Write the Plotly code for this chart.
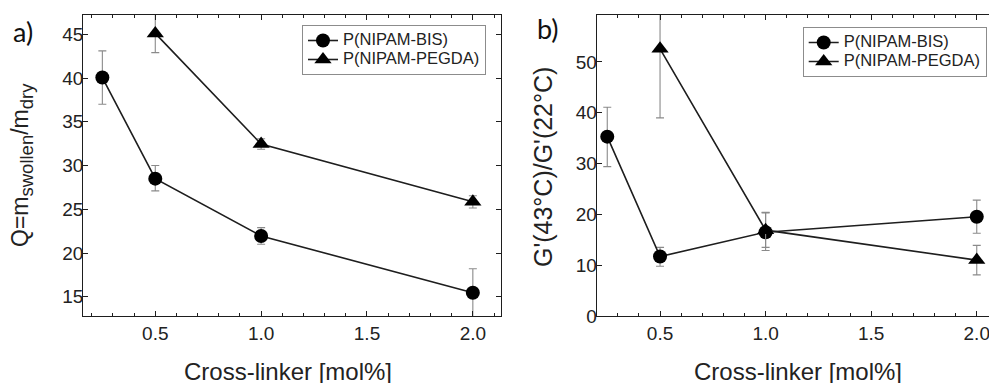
import plotly.graph_objects as go

# ---------------- data ----------------
crosslinker_bis = [0.25, 0.5, 1.0, 2.0]
crosslinker_pegda = [0.5, 1.0, 2.0]

# panel a: swelling ratio Q
q_bis = [40.05, 28.5, 21.95, 15.45]
q_bis_err_plus = [3.05, 1.5, 0.95, 2.75]
q_bis_err_minus = [3.05, 1.4, 0.95, 2.75]
q_pegda = [45.1, 32.45, 25.85]
q_pegda_err = [2.2, 0.6, 0.7]

# panel b: G'(43C)/G'(22C)
g_bis = [35.3, 11.7, 16.5, 19.55]
g_bis_err_plus = [5.8, 1.8, 3.9, 3.25]
g_bis_err_minus = [5.9, 1.9, 3.6, 3.25]
g_pegda = [52.6, 16.9, 11.0]
g_pegda_err = [13.6, 3.4, 2.9]

series_names = ["P(NIPAM-BIS)", "P(NIPAM-PEGDA)"]
x_tick_vals = [0.5, 1.0, 1.5, 2.0]
x_tick_text = ["0.5", "1.0", "1.5", "2.0"]
x_minor_vals = [0.2, 0.3, 0.4, 0.6, 0.7, 0.8, 0.9, 1.1, 1.2, 1.3, 1.4,
                1.6, 1.7, 1.8, 1.9, 2.1]
ya_tick_vals = [15, 20, 25, 30, 35, 40, 45]
yb_tick_vals = [0, 10, 20, 30, 40, 50]

# ---------------- layout geometry (pixels) ----------------
W, H = 989, 383
TOP, BOTTOM = 15, 316
PH = BOTTOM - TOP


def px(p):
    return p / W


def py(p):
    return (BOTTOM - p) / PH


LINE = "#1e1e1e"
ERR = "#8a8a8a"
FONT = "Liberation Sans, Arial, sans-serif"
LEG_TEXT = "<span style='font-size:16.5px'>%s</span>"

fig = go.Figure()


def add_series(x, y, ep, em, name, symbol, xa, ya, legend, size):
    fig.add_trace(go.Scatter(
        x=x, y=y, name=LEG_TEXT % name, mode="lines+markers",
        xaxis=xa, yaxis=ya, legend=legend,
        line=dict(color=LINE, width=1.6),
        marker=dict(symbol=symbol, size=size, color="black",
                    line=dict(width=0)),
        error_y=dict(type="data", array=ep, arrayminus=em, visible=True,
                     color=ERR, thickness=1.1, width=4),
        cliponaxis=True,
    ))


add_series(crosslinker_bis, q_bis, q_bis_err_plus, q_bis_err_minus,
           series_names[0], "circle", "x", "y", "legend", 14)
add_series(crosslinker_pegda, q_pegda, q_pegda_err, q_pegda_err,
           series_names[1], "triangle-up", "x", "y", "legend", 15)
add_series(crosslinker_bis, g_bis, g_bis_err_plus, g_bis_err_minus,
           series_names[0], "circle", "x2", "y2", "legend2", 14)
add_series(crosslinker_pegda, g_pegda, g_pegda_err, g_pegda_err,
           series_names[1], "triangle-up", "x2", "y2", "legend2", 15)

axis_common = dict(
    showline=True, linecolor=LINE, linewidth=1.2,
    ticks="inside", ticklen=5, tickwidth=1.2, tickcolor=LINE,
    showgrid=False, zeroline=False,
    tickfont=dict(family=FONT, size=19, color="#222"),
)
minor_x = dict(ticks="inside", ticklen=3, tickwidth=1, tickcolor=LINE,
               tickmode="array", tickvals=x_minor_vals, showgrid=False)

fig.update_layout(
    width=W, height=H,
    margin=dict(l=0, r=0, t=TOP, b=H - BOTTOM, autoexpand=False),
    paper_bgcolor="white", plot_bgcolor="white",
    xaxis=dict(**axis_common, domain=[px(83.3), px(501)], range=[0.16, 2.133],
               tickvals=x_tick_vals, ticktext=x_tick_text, mirror="ticks",
               minor=minor_x, anchor="y"),
    yaxis=dict(**axis_common, domain=[0, 1], range=[12.8, 47.2],
               tickvals=ya_tick_vals, mirror="ticks", anchor="x",
               ticklabelposition="outside", ticklabelstandoff=-5),
    xaxis2=dict(**axis_common, domain=[px(596.7), 1.0], range=[0.2, 2.058],
                tickvals=x_tick_vals, ticktext=x_tick_text, mirror="ticks",
                minor=minor_x, anchor="y2", ticklabeloverflow="allow"),
    yaxis2=dict(**axis_common, domain=[0, 1], range=[0, 59.25],
                tickvals=yb_tick_vals, mirror=False, anchor="x2",
                ticklabelposition="outside", ticklabelstandoff=-5),
    legend=dict(x=px(302), y=py(25), xanchor="left", yanchor="top",
                bgcolor="white", bordercolor="#8c8c8c", borderwidth=1,
                font=dict(family=FONT, size=12, color="#222"),
                tracegroupgap=0, itemwidth=30),
    legend2=dict(x=px(802.7), y=py(27), xanchor="left", yanchor="top",
                 bgcolor="white", bordercolor="#8c8c8c", borderwidth=1,
                 font=dict(family=FONT, size=12, color="#222"),
                 tracegroupgap=0, itemwidth=30),
    showlegend=True,
)

ann_font = dict(family=FONT, size=24, color="#222")
annotations = [
    dict(text="Cross-linker [mol%]", x=px(287.5), y=py(371), font=ann_font),
    dict(text="Cross-linker [mol%]", x=px(797.5), y=py(371), font=ann_font),
    dict(text="Q=m<sub><span style='font-size:18.5px'>swollen</span></sub>/m"
              "<sub><span style='font-size:18.5px'>dry</span></sub>",
         x=px(22), y=py(165), textangle=-90,
         font=dict(family=FONT, size=23, color="#222")),
    dict(text="G'(43°C)/G'(22°C)", x=px(543), y=py(167), textangle=-90,
         font=dict(family=FONT, size=25, color="#222")),
    dict(text="a)", x=px(23), y=py(31),
         font=dict(family="Lato, sans-serif", size=27, color="#111")),
    dict(text="b)", x=px(548), y=py(29),
         font=dict(family="Lato, sans-serif", size=27, color="#111")),
]
for a in annotations:
    a.update(xref="paper", yref="paper", showarrow=False,
             xanchor="center", yanchor="middle")
fig.update_layout(annotations=annotations)

fig.write_html(
    "out.html",
    config={"displayModeBar": False},
    post_script="document.body.style.margin='0';document.body.style.overflow='hidden';",
)
